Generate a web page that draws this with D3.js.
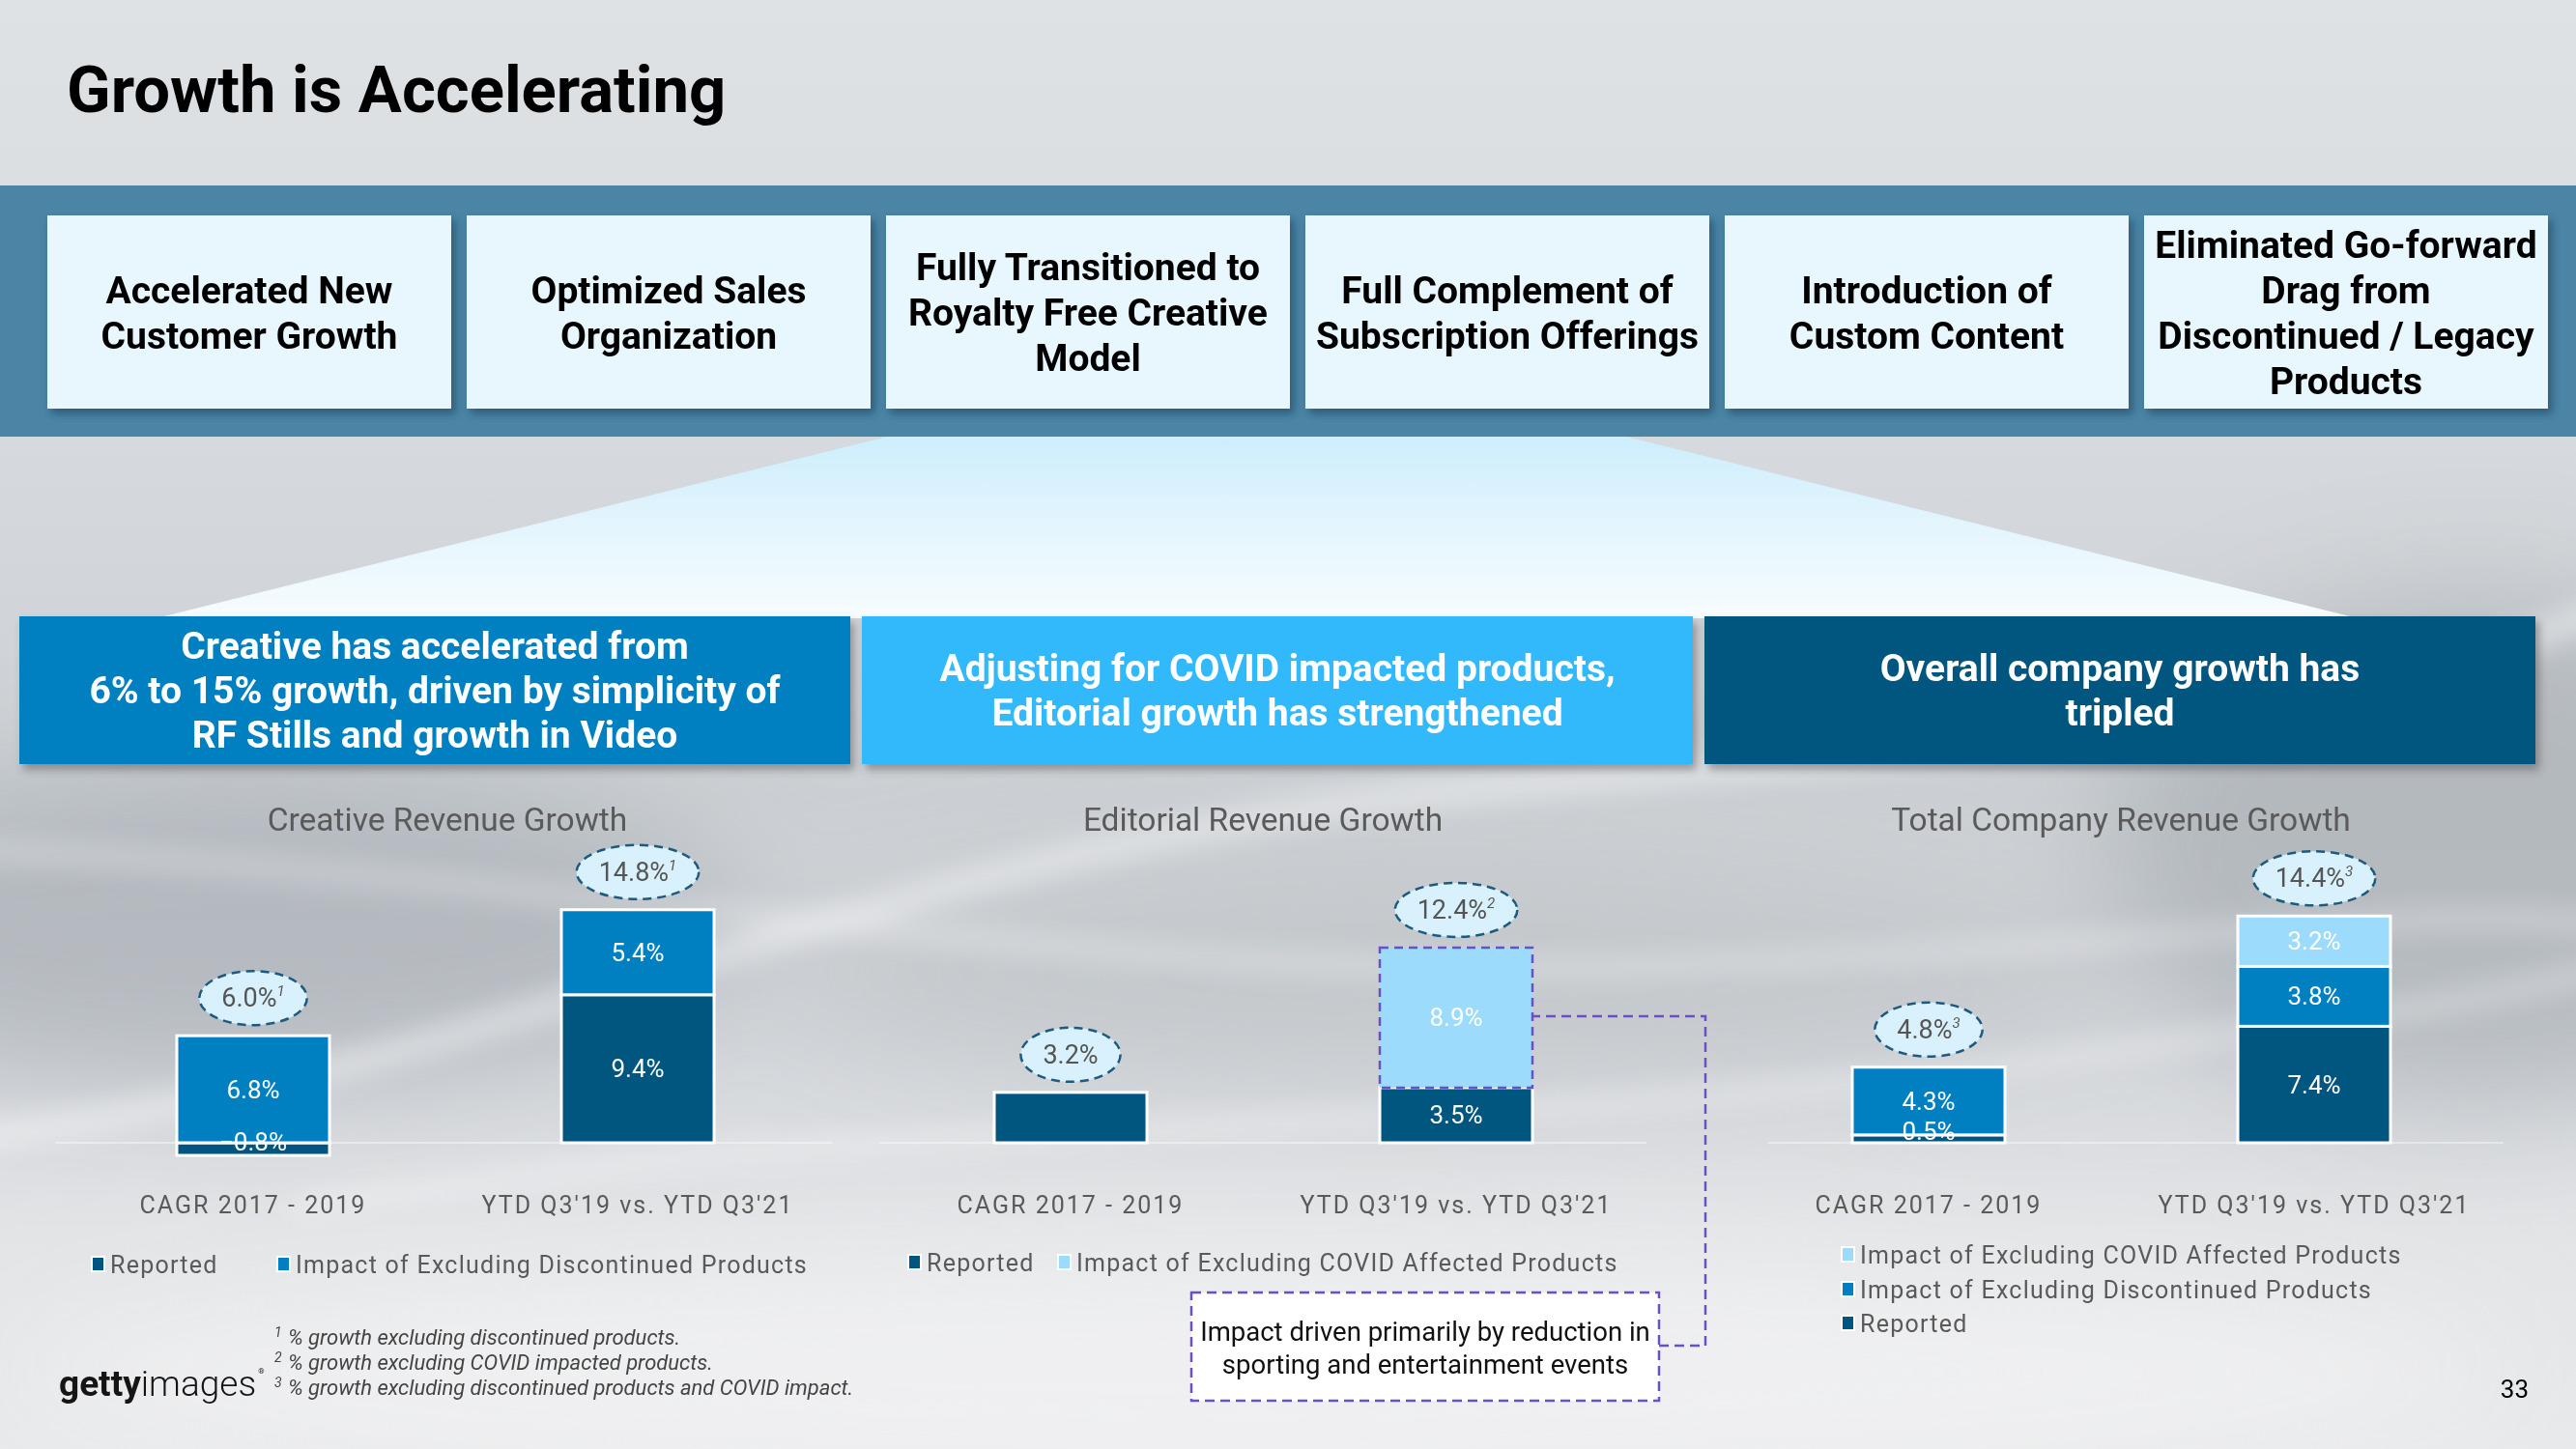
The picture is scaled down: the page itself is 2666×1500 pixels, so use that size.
<!DOCTYPE html>
<html><head><meta charset="utf-8">
<script src="https://cdn.jsdelivr.net/npm/d3@7"></script>
<style>html,body{margin:0;padding:0;overflow:hidden;background:#d8dce0}</style>
</head><body><svg id="c" width="2666" height="1500"></svg>
<script>
// ---------------- data ----------------
const slideTitle = "Growth is Accelerating";
const driverLabels = [
  ["Accelerated New","Customer Growth"],
  ["Optimized Sales","Organization"],
  ["Fully Transitioned to","Royalty Free Creative","Model"],
  ["Full Complement of","Subscription Offerings"],
  ["Introduction of","Custom Content"],
  ["Eliminated Go-forward","Drag from","Discontinued / Legacy","Products"]
];
const calloutTexts = [
  ["Creative has accelerated from","6% to 15% growth, driven by simplicity of","RF Stills and growth in Video"],
  ["Adjusting for COVID impacted products,","Editorial growth has strengthened"],
  ["Overall company growth has","tripled"]
];
const chartTitles = ["Creative Revenue Growth","Editorial Revenue Growth","Total Company Revenue Growth"];
const categories = ["CAGR 2017 - 2019","YTD Q3'19 vs. YTD Q3'21"];
const creativeReported = [-0.8, 9.4];
const creativeDiscontinued = [6.8, 5.4];
const creativeTotals = [6.0, 14.8];
const creativeNotes = ["1","1"];
const editorialReported = [3.2, 3.5];
const editorialCovid = [0, 8.9];
const editorialTotals = [3.2, 12.4];
const editorialNotes = ["", "2"];
const totalReported = [0.5, 7.4];
const totalDiscontinued = [4.3, 3.8];
const totalCovid = [0, 3.2];
const totalTotals = [4.8, 14.4];
const totalNotes = ["3","3"];
const seriesNames = {reported:"Reported", disc:"Impact of Excluding Discontinued Products", covid:"Impact of Excluding COVID Affected Products"};
const footnoteMarks = ["1","2","3"];
const footnotes = ["% growth excluding discontinued products.","% growth excluding COVID impacted products.","% growth excluding discontinued products and COVID impact."];
const annotationLines = ["Impact driven primarily by reduction in","sporting and entertainment events"];
const pageNumber = "33";

// ---------------- styles ----------------
const FONT = "Roboto, 'Noto Sans', sans-serif";
const colors = {reported:"#00567f", disc:"#007fc1", covid:"#9cdbfc"};
const calloutColors = ["#0080c0","#33b9fc","#00567f"];
const purple = "#6b4fc4";

const svg = d3.select("#c");
const defs = svg.append("defs");

const bg = defs.append("linearGradient").attr("id","bg").attr("x1",0).attr("y1",0).attr("x2",0).attr("y2",1);
[[0,"#dfe2e5"],[0.3,"#d6d9dd"],[0.55,"#ccd0d4"],[0.72,"#d4d7db"],[0.85,"#e2e4e6"],[1,"#e8e9eb"]]
  .forEach(s=>bg.append("stop").attr("offset",s[0]).attr("stop-color",s[1]));
const beam = defs.append("linearGradient").attr("id","beam").attr("x1",0).attr("y1",0).attr("x2",0).attr("y2",1);
[[0,"#cdeefc"],[0.5,"#e4f5fd"],[1,"#f7fcff"]].forEach(s=>beam.append("stop").attr("offset",s[0]).attr("stop-color",s[1]));
const blur = defs.append("filter").attr("id","blur").attr("x","-50%").attr("y","-50%").attr("width","200%").attr("height","200%");
blur.append("feGaussianBlur").attr("stdDeviation",60);
const blur2 = defs.append("filter").attr("id","blur2").attr("x","-50%").attr("y","-50%").attr("width","200%").attr("height","200%");
blur2.append("feGaussianBlur").attr("stdDeviation",14);
const sh1 = defs.append("filter").attr("id","sh1").attr("x","-10%").attr("y","-10%").attr("width","130%").attr("height","130%");
sh1.append("feDropShadow").attr("dx",4).attr("dy",5).attr("stdDeviation",4).attr("flood-color","#14384f").attr("flood-opacity",0.55);
const sh2 = defs.append("filter").attr("id","sh2").attr("x","-10%").attr("y","-10%").attr("width","130%").attr("height","140%");
sh2.append("feDropShadow").attr("dx",4).attr("dy",6).attr("stdDeviation",4).attr("flood-color","#444").attr("flood-opacity",0.45);

// ---------------- background ----------------
svg.append("rect").attr("width",2666).attr("height",1500).attr("fill","url(#bg)");
const blobs = svg.append("g").attr("filter","url(#blur)");
blobs.append("ellipse").attr("cx",250).attr("cy",960).attr("rx",520).attr("ry",160).attr("fill","#9aa0a7").attr("opacity",0.5);
blobs.append("ellipse").attr("cx",2560).attr("cy",880).attr("rx",380).attr("ry",260).attr("fill","#9ca1a8").attr("opacity",0.5);
blobs.append("ellipse").attr("cx",1500).attr("cy",1010).attr("rx",700).attr("ry",110).attr("fill","#b0b4b9").attr("opacity",0.4);
blobs.append("ellipse").attr("cx",1300).attr("cy",1420).attr("rx",1300).attr("ry",120).attr("fill","#f3f4f5").attr("opacity",0.7);
const sw = svg.append("g").attr("filter","url(#blur2)").attr("fill","none").attr("stroke","#ffffff");
sw.append("path").attr("d","M-50,1180 C500,1120 900,880 1500,820 S2400,760 2720,620").attr("stroke-width",26).attr("opacity",0.45);
sw.append("path").attr("d","M-50,880 C600,900 1100,1020 1700,1000 S2500,930 2720,960").attr("stroke-width",18).attr("opacity",0.35);
sw.append("path").attr("d","M300,1250 C900,1150 1500,1180 2100,1100 S2600,1020 2720,1000").attr("stroke-width",20).attr("opacity",0.35);

// ---------------- title ----------------
svg.append("text").attr("x",69).attr("y",116).attr("font-family",FONT).attr("font-weight",700)
  .attr("font-size",67).attr("fill","#000").text(slideTitle);

// ---------------- driver band ----------------
svg.append("rect").attr("x",0).attr("y",192).attr("width",2666).attr("height",260).attr("fill","#4b85a5");
svg.append("path").attr("d","M918,452 L1683,452 L2440,640 L162,640 Z").attr("fill","url(#beam)");

const bx = d3.scaleBand().domain(d3.range(driverLabels.length)).range([49,2637]).paddingInner(16/434).paddingOuter(0);
const boxes = svg.append("g").selectAll("g").data(driverLabels).join("g");
boxes.append("rect").attr("x",(d,i)=>bx(i)).attr("y",223).attr("width",bx.bandwidth()).attr("height",200)
  .attr("fill","#e8f7fe").attr("filter","url(#sh1)");
boxes.each(function(lines,i){
  const g = d3.select(this);
  const cx = bx(i)+bx.bandwidth()/2, cy = 323, lh = 47;
  lines.forEach((t,j)=>{
    const tx = g.append("text").attr("x",cx).attr("y",cy + (j-(lines.length-1)/2)*lh + 14)
      .attr("text-anchor","middle").attr("font-family",FONT).attr("font-weight",700).attr("font-size",39)
      .attr("fill","#000").text(t);
    const w = tx.node().getComputedTextLength();
    if (w > bx.bandwidth()-12) tx.attr("textLength",bx.bandwidth()-12).attr("lengthAdjust","spacingAndGlyphs");
  });
});

// ---------------- callouts ----------------
const cxs = d3.scaleBand().domain(d3.range(3)).range([20,2624]).paddingInner(12/872).paddingOuter(0);
const callouts = svg.append("g").selectAll("g").data(calloutTexts).join("g");
callouts.append("rect").attr("x",(d,i)=>cxs(i)).attr("y",638).attr("width",cxs.bandwidth()).attr("height",153)
  .attr("fill",(d,i)=>calloutColors[i]).attr("filter","url(#sh2)");
callouts.each(function(lines,i){
  const g = d3.select(this);
  const cx = cxs(i)+cxs.bandwidth()/2, cy = 714, lh = 46;
  lines.forEach((t,j)=>{
    g.append("text").attr("x",cx).attr("y",cy + (j-(lines.length-1)/2)*lh + 14)
      .attr("text-anchor","middle").attr("font-family",FONT).attr("font-weight",700).attr("font-size",39)
      .attr("fill","#fff").text(t);
  });
});

// ---------------- charts ----------------
const y = d3.scaleLinear().domain([0,15]).range([1183, 1183-15*16.3]);
const barW = 158;
const fmt = v => d3.format(".1f")(v) + "%";

const charts = [
  { title: chartTitles[0], titleX: 463,
    keys:["reported","disc"],
    data: categories.map((c,i)=>({cat:c, reported:creativeReported[i], disc:creativeDiscontinued[i]})),
    totals: creativeTotals, notes: creativeNotes, xr:[262,660], axis:[57,861],
    legend:{keys:["reported","disc"], pos:[[95,1309],[287,1309]]} },
  { title: chartTitles[1], titleX: 1307,
    keys:["reported","covid"],
    data: categories.map((c,i)=>({cat:c, reported:editorialReported[i], covid:editorialCovid[i]})),
    totals: editorialTotals, notes: editorialNotes, xr:[1108,1507], axis:[910,1704], highlight:"covid",
    legend:{keys:["reported","covid"], pos:[[940,1307],[1095,1307]]} },
  { title: chartTitles[2], titleX: 2195,
    keys:["reported","disc","covid"],
    data: categories.map((c,i)=>({cat:c, reported:totalReported[i], disc:totalDiscontinued[i], covid:totalCovid[i]})),
    totals: totalTotals, notes: totalNotes, xr:[1996,2395], axis:[1830,2591],
    legend:{keys:["covid","disc","reported"], pos:[[1906,1299],[1906,1335],[1906,1370]]} }
];

charts.forEach(ch=>{
  const g = svg.append("g");
  const x = d3.scalePoint().domain(categories).range(ch.xr);
  g.append("text").attr("x",ch.titleX).attr("y",860).attr("text-anchor","middle")
    .attr("font-family",FONT).attr("font-size",33.5).attr("fill","#5a5a5a").text(ch.title);
  g.append("line").attr("x1",ch.axis[0]).attr("x2",ch.axis[1]).attr("y1",y(0)).attr("y2",y(0))
    .attr("stroke","#ffffff").attr("stroke-opacity",0.4).attr("stroke-width",2);

  const stacked = d3.stack().keys(ch.keys).offset(d3.stackOffsetDiverging)(ch.data);
  const nonZero = ch.data.map(d=>ch.keys.filter(k=>d[k]!==0).length);

  stacked.forEach(s=>{
    const isHi = ch.highlight === s.key;
    s.forEach((d,i)=>{
      if (d[1]-d[0] === 0) return;
      const cat = d.data.cat;
      const y0 = y(Math.max(d[0],d[1])), y1 = y(Math.min(d[0],d[1]));
      g.append("rect").attr("x",x(cat)-barW/2).attr("y",y0).attr("width",barW).attr("height",y1-y0)
        .attr("fill",colors[s.key])
        .attr("stroke",isHi?purple:"#ffffff").attr("stroke-width",isHi?2.5:3)
        .attr("stroke-dasharray",isHi?"9,6":null);
    });
  });
  stacked.forEach(s=>{
    s.forEach((d,i)=>{
      const v = d.data[s.key];
      if (v===0 || nonZero[i] < 2) return;
      const y0 = y(Math.max(d[0],d[1])), y1 = y(Math.min(d[0],d[1]));
      let cy = (y0+y1)/2;
      if (y1-y0 < 30) cy -= 8;
      g.append("text").attr("x",x(d.data.cat)).attr("y",cy+9).attr("text-anchor","middle")
        .attr("font-family",FONT).attr("font-size",26).attr("fill","#fff").text(fmt(v));
    });
  });
  ch.data.forEach((d,i)=>{
    const posTop = d3.sum(ch.keys, k=>Math.max(0,d[k]));
    const cx = x(d.cat), cy = y(posTop) - 39;
    const eg = g.append("g");
    const el = eg.append("ellipse").attr("cx",cx).attr("cy",cy).attr("ry",28)
      .attr("fill","#d9f1fc").attr("stroke","#1d5a80").attr("stroke-width",2.5).attr("stroke-dasharray","9,6");
    const t = eg.append("text").attr("x",cx).attr("y",cy+9).attr("text-anchor","middle")
      .attr("font-family",FONT).attr("font-size",27).attr("fill","#555");
    t.append("tspan").text(fmt(ch.totals[i]));
    if (ch.notes[i]) t.append("tspan").attr("dy",-11).attr("font-size",15).attr("font-style","italic").text(ch.notes[i]);
    const w = t.node().getComputedTextLength();
    el.attr("rx", w/2 + 23);
  });
  categories.forEach(c=>{
    g.append("text").attr("x",x(c)).attr("y",1256).attr("text-anchor","middle")
      .attr("font-family",FONT).attr("font-size",25).attr("letter-spacing",2).attr("fill","#5a5a5a").text(c);
  });
  ch.legend.keys.forEach((k,j)=>{
    const [lx,ly] = ch.legend.pos[j];
    g.append("rect").attr("x",lx).attr("y",ly-8).attr("width",13).attr("height",15)
      .attr("fill",colors[k]).attr("stroke","#fff").attr("stroke-width",2);
    g.append("text").attr("x",lx+19).attr("y",ly+9).attr("font-family",FONT).attr("font-size",25)
      .attr("letter-spacing",1.25).attr("fill","#5a5a5a").text(seriesNames[k]);
  });
});

// ---------------- annotation ----------------
const ann = svg.append("g");
ann.append("path").attr("d","M1717,1393 H1765 V1052 H1587").attr("fill","none")
  .attr("stroke",purple).attr("stroke-width",2.5).attr("stroke-dasharray","10,6");
ann.append("rect").attr("x",1233).attr("y",1338).attr("width",484).attr("height",112)
  .attr("fill","#fff").attr("stroke",purple).attr("stroke-width",2.5).attr("stroke-dasharray","10,6");
annotationLines.forEach((t,j)=>{
  const tx = ann.append("text").attr("x",1475).attr("y",1388+j*34).attr("text-anchor","middle")
    .attr("font-family",FONT).attr("font-size",27.5).attr("fill","#111").text(t);
  const w = tx.node().getComputedTextLength();
  if (w > 470) tx.attr("textLength",470).attr("lengthAdjust","spacingAndGlyphs");
});

// ---------------- footnotes ----------------
footnotes.forEach((t,j)=>{
  svg.append("text").attr("x",284).attr("y",1384+j*26).attr("font-family",FONT).attr("font-size",14)
    .attr("font-style","italic").attr("fill","#444").text(footnoteMarks[j]);
  svg.append("text").attr("x",298).attr("y",1392+j*26).attr("font-family",FONT).attr("font-size",22)
    .attr("font-style","italic").attr("fill","#444").text(t);
});

// ---------------- logo & page ----------------
const logo = svg.append("text").attr("x",61).attr("y",1445).attr("font-family",FONT).attr("font-size",37).attr("fill","#151515");
logo.append("tspan").attr("font-weight",700).text("getty");
logo.append("tspan").attr("font-weight",300).text("images");
const lw = logo.node().getComputedTextLength();
svg.append("text").attr("x",61+lw+2).attr("y",1422).attr("font-family",FONT).attr("font-size",8).attr("fill","#151515").text("®");
svg.append("text").attr("x",2617).attr("y",1447).attr("text-anchor","end").attr("font-family",FONT)
  .attr("font-size",26).attr("fill","#000").text(pageNumber);
</script>
</body></html>
